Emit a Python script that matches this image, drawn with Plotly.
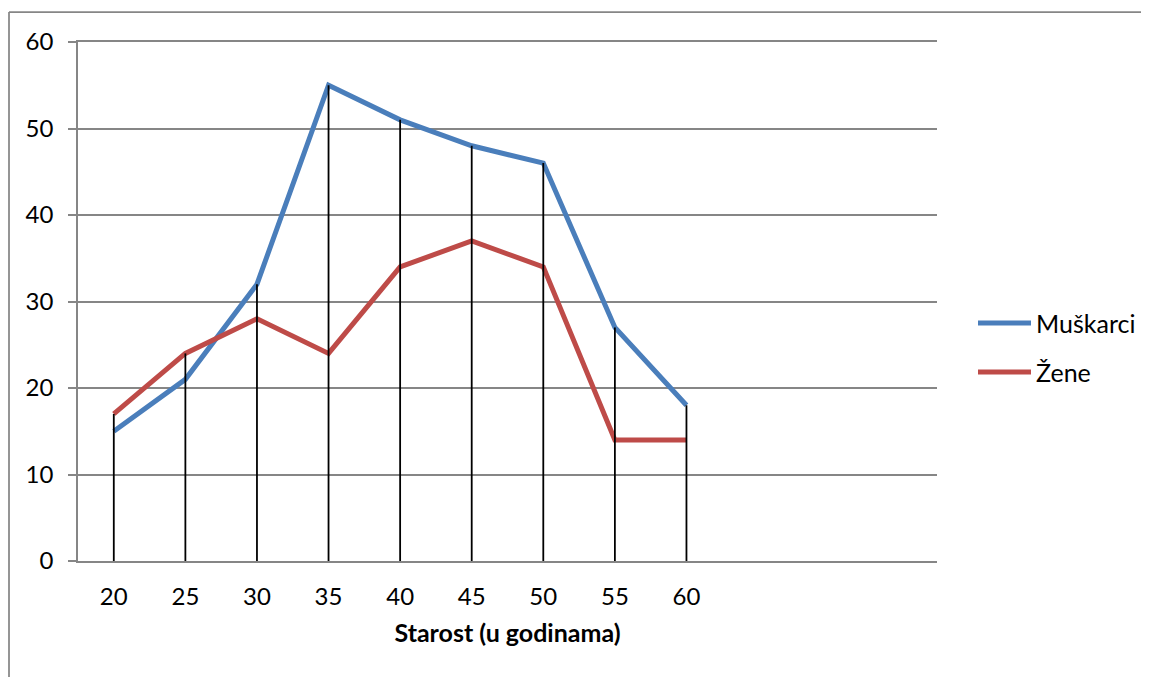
import plotly.graph_objects as go

ages = [20, 25, 30, 35, 40, 45, 50, 55, 60]
muskarci = [15, 21, 32, 55, 51, 48, 46, 27, 18]
zene = [17, 24, 28, 24, 34, 37, 34, 14, 14]
y_ticks = [0, 10, 20, 30, 40, 50, 60]
x_title = "Starost (u godinama)"
names = ["Muškarci", "Žene"]

BLUE = "#4A7EBB"
RED = "#BE4B48"
GRID = "#868686"
FONT = "Lato"
OFF = 8  # page body margin

fig = go.Figure()
fig.add_trace(go.Scatter(x=ages, y=muskarci, mode="lines", name=names[0],
                         line=dict(color=BLUE, width=5), showlegend=False))
fig.add_trace(go.Scatter(x=ages, y=zene, mode="lines", name=names[1],
                         line=dict(color=RED, width=5), showlegend=False))

# drop lines from the highest series point down to the axis
dx, dy = [], []
for a, m, z in zip(ages, muskarci, zene):
    dx += [a, a, None]
    dy += [0, max(m, z), None]
fig.add_trace(go.Scatter(x=dx, y=dy, mode="lines", line=dict(color="black", width=1.8),
                         showlegend=False, hoverinfo="skip"))

# plot area in screen pixels
L, T, W, H = 78, 42, 859, 519
def px(x):
    return (x - L) / W
def py(y):
    return (T + H - y) / H

shapes = []
annotations = []
for i, (nm, col) in enumerate(zip(names, [BLUE, RED])):
    yy = 323 + 49 * i
    shapes.append(dict(type="line", xref="paper", yref="paper",
                       x0=px(978), x1=px(1031), y0=py(yy), y1=py(yy),
                       line=dict(color=col, width=5)))
    annotations.append(dict(xref="paper", yref="paper", x=px(1034), y=py(yy),
                            text=nm, showarrow=False, xanchor="left", yanchor="middle",
                            font=dict(family=FONT, size=25, color="black")))

# outer chart border
shapes.append(dict(type="line", xref="paper", yref="paper", x0=px(9), x1=px(1170),
                   y0=py(12), y1=py(12), line=dict(color=GRID, width=1.75)))
shapes.append(dict(type="line", xref="paper", yref="paper", x0=px(9), x1=px(9),
                   y0=py(12), y1=py(720), line=dict(color=GRID, width=1.75)))

fig.update_layout(
    width=1149, height=677,
    margin=dict(l=L - OFF, r=1149 - (L - OFF) - W, t=T - OFF, b=677 - (T - OFF) - H),
    paper_bgcolor="white", plot_bgcolor="white",
    font=dict(family=FONT, size=24, color="black"),
    shapes=shapes, annotations=annotations,
    showlegend=False,
)
fig.update_xaxes(range=[17.5, 77.5], tickvals=ages, ticktext=[str(a) for a in ages],
                 showgrid=False, zeroline=False,
                 showline=True, mirror=True, linecolor=GRID, linewidth=1.75,
                 ticks="outside", ticklen=13, tickcolor="rgba(0,0,0,0)",
                 title=dict(text="<b>" + x_title + "</b>", font=dict(family=FONT, size=25), standoff=16),
                 tickfont=dict(family=FONT, size=24))
fig.update_yaxes(range=[0, 60], tickvals=y_ticks, showgrid=True, gridcolor=GRID, gridwidth=1.75,
                 zeroline=False, showline=True, linecolor=GRID, linewidth=1.75,
                 ticks="outside", ticklen=8, tickcolor=GRID, tickwidth=1.75,
                 ticklabelstandoff=10, tickfont=dict(family=FONT, size=24))

fig.write_html("out.html")
